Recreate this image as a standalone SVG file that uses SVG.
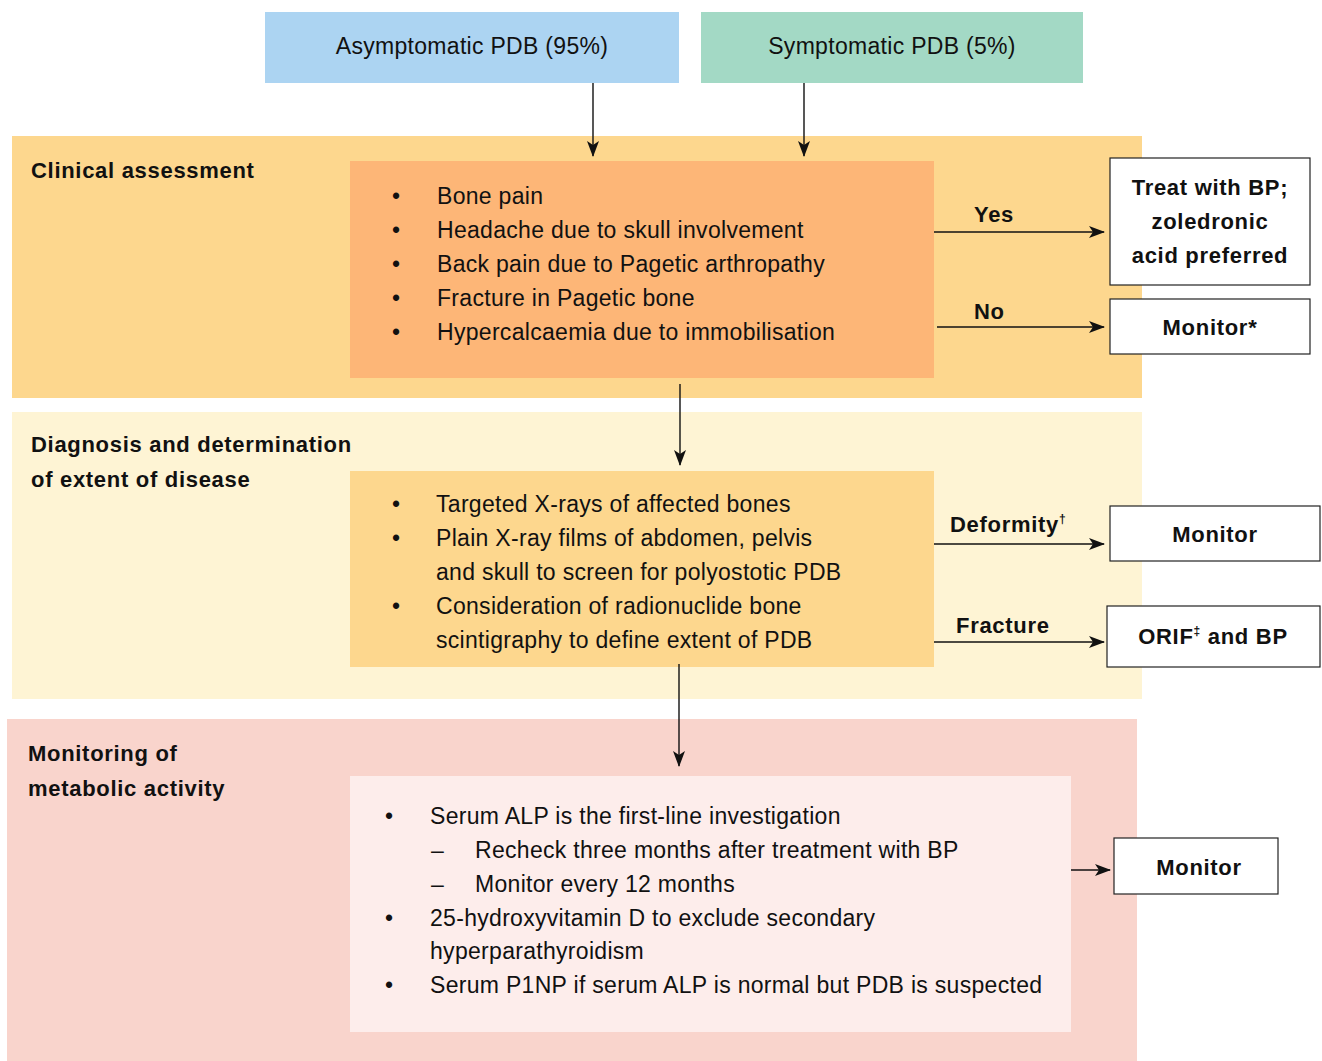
<svg xmlns="http://www.w3.org/2000/svg" width="1322" height="1061" viewBox="0 0 1322 1061">
<style>
.t{font-family:"Liberation Sans",Arial,sans-serif;font-size:23px;letter-spacing:0.3px;fill:#111}
.b{font-family:"Liberation Sans",Arial,sans-serif;font-size:22px;letter-spacing:0.7px;font-weight:bold;fill:#111}
.c{text-anchor:middle}
.box{fill:#fff;stroke:#222;stroke-width:1.2}
.ln{stroke:#111;stroke-width:1.4;fill:none;marker-end:url(#ah)}
</style>
<defs>
<marker id="ah" viewBox="0 0 16 12" refX="15" refY="6" markerWidth="16" markerHeight="12" markerUnits="userSpaceOnUse" orient="auto">
<path d="M0,0 L16,6 L0,12 L4,6 Z" fill="#111"/>
</marker>
</defs>

<g id="band-clinical">
<rect x="12" y="136" width="1130" height="262" fill="#fdd78e"/>
<text class="b" x="31" y="178">Clinical assessment</text>
</g>
<g id="band-diagnosis">
<rect x="12" y="412" width="1130" height="287" fill="#fef4d4"/>
<text class="b" x="31" y="452">Diagnosis and determination</text>
<text class="b" x="31" y="487">of extent of disease</text>
</g>
<g id="band-monitoring">
<rect x="7" y="719" width="1130" height="342" fill="#f9d4cc"/>
<text class="b" x="28" y="761">Monitoring of</text>
<text class="b" x="28" y="796">metabolic activity</text>
</g>

<g id="asymptomatic">
<rect x="265" y="12" width="414" height="71" fill="#acd4f2"/>
<text class="t c" x="472" y="54">Asymptomatic PDB (95%)</text>
</g>
<g id="symptomatic">
<rect x="701" y="12" width="382" height="71" fill="#a3d9c5"/>
<text class="t c" x="892" y="54">Symptomatic PDB (5%)</text>
</g>

<g id="clinical-box">
<rect x="350" y="161" width="584" height="217" fill="#fdb677"/>
<g class="t">
<text x="392" y="204">•</text><text x="437" y="204">Bone pain</text>
<text x="392" y="238">•</text><text x="437" y="238">Headache due to skull involvement</text>
<text x="392" y="272">•</text><text x="437" y="272">Back pain due to Pagetic arthropathy</text>
<text x="392" y="306">•</text><text x="437" y="306">Fracture in Pagetic bone</text>
<text x="392" y="340">•</text><text x="437" y="340">Hypercalcaemia due to immobilisation</text>
</g>
</g>

<g id="diagnosis-box">
<rect x="350" y="471" width="584" height="196" fill="#fdd78e"/>
<g class="t">
<text x="392" y="512">•</text><text x="436" y="512">Targeted X-rays of affected bones</text>
<text x="392" y="546">•</text><text x="436" y="546">Plain X-ray films of abdomen, pelvis</text>
<text x="436" y="580">and skull to screen for polyostotic PDB</text>
<text x="392" y="614">•</text><text x="436" y="614">Consideration of radionuclide bone</text>
<text x="436" y="648">scintigraphy to define extent of PDB</text>
</g>
</g>

<g id="monitoring-box">
<rect x="350" y="776" width="721" height="256" fill="#fdedeb"/>
<g class="t">
<text x="385" y="824">•</text><text x="430" y="824">Serum ALP is the first-line investigation</text>
<text x="431" y="858">–</text><text x="475" y="858">Recheck three months after treatment with BP</text>
<text x="431" y="892">–</text><text x="475" y="892">Monitor every 12 months</text>
<text x="385" y="926">•</text><text x="430" y="926">25-hydroxyvitamin D to exclude secondary</text>
<text x="430" y="959">hyperparathyroidism</text>
<text x="385" y="993">•</text><text x="430" y="993">Serum P1NP if serum ALP is normal but PDB is suspected</text>
</g>
</g>

<g id="treat">
<rect class="box" x="1110" y="158" width="200" height="127"/>
<text class="b c" x="1210" y="195">Treat with BP;</text>
<text class="b c" x="1210" y="229">zoledronic</text>
<text class="b c" x="1210" y="263">acid preferred</text>
</g>
<g id="monitor-star">
<rect class="box" x="1110" y="299" width="200" height="55"/>
<text class="b c" x="1210" y="335">Monitor*</text>
</g>
<g id="monitor-deformity">
<rect class="box" x="1110" y="506" width="210" height="55"/>
<text class="b c" x="1215" y="542">Monitor</text>
</g>
<g id="orif">
<rect class="box" x="1107" y="606" width="213" height="61"/>
<text class="b c" x="1213" y="644">ORIF<tspan font-size="12" dy="-9">‡</tspan><tspan dy="9"> and BP</tspan></text>
</g>
<g id="monitor-bottom">
<rect class="box" x="1114" y="838" width="164" height="56"/>
<text class="b c" x="1199" y="875">Monitor</text>
</g>

<g id="connectors">
<line class="ln" x1="593" y1="83" x2="593" y2="156"/>
<line class="ln" x1="804" y1="83" x2="804" y2="156"/>
<line class="ln" x1="680" y1="384" x2="680" y2="465"/>
<line class="ln" x1="679" y1="664" x2="679" y2="766"/>
<line class="ln" x1="934" y1="232" x2="1104" y2="232"/>
<line class="ln" x1="937" y1="327" x2="1104" y2="327"/>
<line class="ln" x1="934" y1="544" x2="1104" y2="544"/>
<line class="ln" x1="934" y1="642" x2="1104" y2="642"/>
<line class="ln" x1="1071" y1="870" x2="1110" y2="870"/>
<text class="b" x="974" y="222">Yes</text>
<text class="b" x="974" y="319">No</text>
<text class="b" x="950" y="532">Deformity<tspan font-size="12" dy="-9">†</tspan></text>
<text class="b" x="956" y="633">Fracture</text>
</g>
</svg>
